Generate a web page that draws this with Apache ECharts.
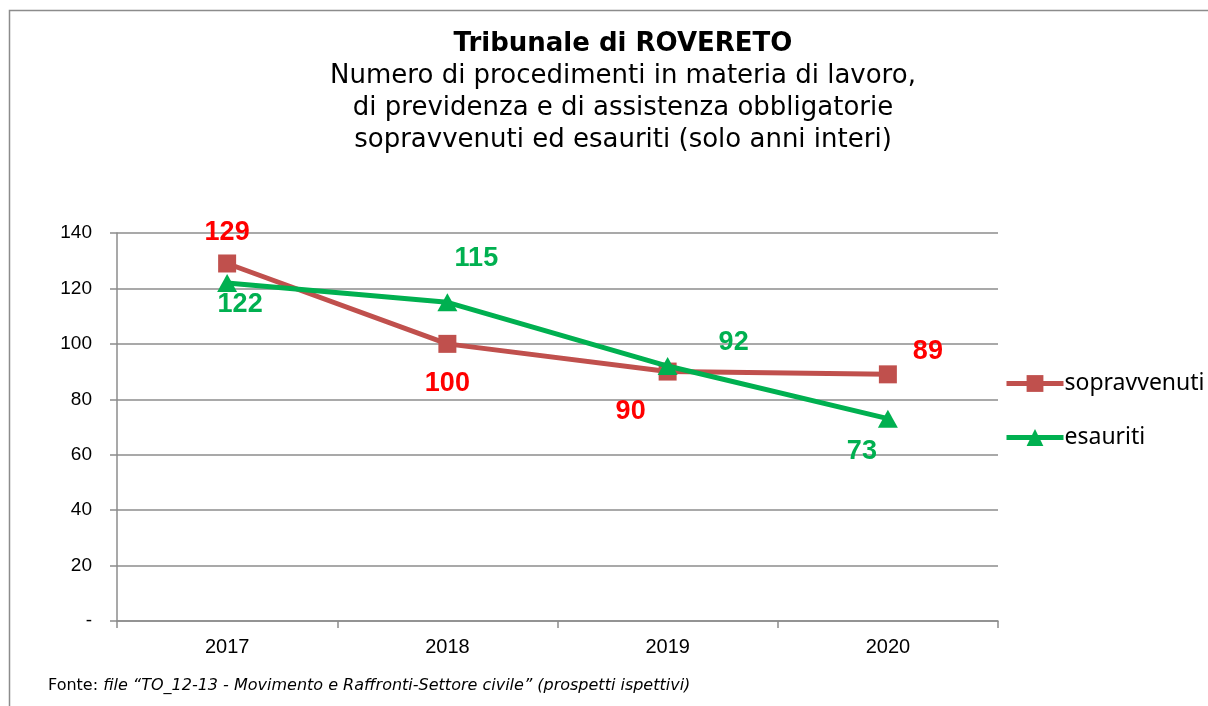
<!DOCTYPE html>
<html>
<head>
<meta charset="utf-8">
<script src="https://cdn.jsdelivr.net/npm/echarts@6/dist/echarts.min.js"></script>
<style>
  html, body { margin: 0; padding: 0; background: #fff; }
  #chart { width: 1208px; height: 706px; }
</style>
</head>
<body>
<div id="chart"></div>
<script>
  // data
  const years = ['2017', '2018', '2019', '2020'];
  const sopravvenuti = [129, 100, 90, 89];
  const esauriti = [122, 115, 92, 73];
  // where each value label sits relative to its point
  const soprOffsets = [[0, -31], [0, 40], [-37, 40], [40, -23]];
  const esauOffsets = [[13, 22], [29, -44], [66, -23], [-26, 33]];

  const RED_LINE = '#c0504d';
  const RED_LABEL = '#ff0000';
  const GREEN = '#00b050';

  const chart = echarts.init(document.getElementById('chart'));

  const withLabels = (values, offsets) =>
    values.map((v, i) => ({
      value: v,
      label: { offset: offsets[i] }
    }));

  const labelStyle = color => ({
    show: true,
    position: 'inside',
    color: color,
    fontFamily: 'Liberation Sans, Arial, sans-serif',
    fontWeight: 'bold',
    fontSize: 27
  });

  chart.setOption({
    animation: false,
    backgroundColor: '#fff',
    graphic: [
      {
        type: 'rect',
        shape: { x: 9.5, y: 10.5, width: 1300, height: 800 },
        style: { fill: 'none', stroke: '#8c8c8c', lineWidth: 1.5 },
        silent: true
      },
      {
        type: 'text',
        left: 48,
        top: 678,
        style: {
          text: '{n|Fonte: }{i|file “TO_12-13 - Movimento e Raffronti-Settore civile” (prospetti ispettivi)}',
          rich: {
            n: { fontFamily: 'DejaVu Sans', fontSize: 16, fill: '#000' },
            i: { fontFamily: 'DejaVu Sans', fontStyle: 'italic', fontSize: 16, fill: '#000' }
          }
        }
      }
    ],
    title: {
      text: 'Tribunale di ROVERETO',
      subtext: 'Numero di procedimenti in materia di lavoro,\ndi previdenza e di assistenza obbligatorie\nsopravvenuti ed esauriti (solo anni interi)',
      left: 623,
      top: 28,
      padding: 0,
      textAlign: 'center',
      itemGap: 0,
      textStyle: {
        fontFamily: 'DejaVu Sans',
        fontWeight: 'bold',
        fontSize: 26,
        lineHeight: 32,
        color: '#000'
      },
      subtextStyle: {
        fontFamily: 'DejaVu Sans',
        fontSize: 26,
        lineHeight: 32,
        color: '#000'
      }
    },
    legend: {
      orient: 'vertical',
      left: 1004,
      top: 372,
      padding: 0,
      itemGap: 31,
      itemWidth: 57,
      itemHeight: 21,
      lineStyle: { width: 5 },
      textStyle: {
        fontFamily: 'Noto Sans, Open Sans, sans-serif',
        fontSize: 23,
        color: '#000',
        padding: [0, 0, 0, -4]
      },
      data: ['sopravvenuti', 'esauriti']
    },
    grid: {
      left: 117,
      right: 210,
      top: 233,
      bottom: 85
    },
    xAxis: {
      type: 'category',
      data: years,
      boundaryGap: true,
      axisLine: { lineStyle: { color: '#8c8c8c', width: 1.5 } },
      axisTick: { show: true, length: 7, inside: false, lineStyle: { color: '#8c8c8c', width: 1.5 } },
      axisLabel: {
        margin: 16,
        fontFamily: 'Liberation Sans, Arial, sans-serif',
        fontSize: 20,
        color: '#000'
      }
    },
    yAxis: {
      type: 'value',
      min: 0,
      max: 140,
      interval: 20,
      axisLine: { show: true, lineStyle: { color: '#8c8c8c', width: 1.5 } },
      axisTick: { show: true, length: 7, lineStyle: { color: '#8c8c8c', width: 1.5 } },
      splitLine: { lineStyle: { color: '#8c8c8c', width: 1.5 } },
      axisLabel: {
        margin: 25,
        fontFamily: 'Liberation Sans, Arial, sans-serif',
        fontSize: 19,
        color: '#000',
        formatter: v => (v === 0 ? '-' : String(v))
      }
    },
    series: [
      {
        name: 'sopravvenuti',
        type: 'line',
        data: withLabels(sopravvenuti, soprOffsets),
        symbol: 'rect',
        symbolSize: 18,
        lineStyle: { color: RED_LINE, width: 5 },
        itemStyle: { color: RED_LINE },
        label: labelStyle(RED_LABEL),
        z: 2
      },
      {
        name: 'esauriti',
        type: 'line',
        data: withLabels(esauriti, esauOffsets),
        symbol: 'triangle',
        symbolSize: [20, 18],
        lineStyle: { color: GREEN, width: 5 },
        itemStyle: { color: GREEN },
        label: labelStyle(GREEN),
        z: 3
      }
    ]
  });
</script>
</body>
</html>
